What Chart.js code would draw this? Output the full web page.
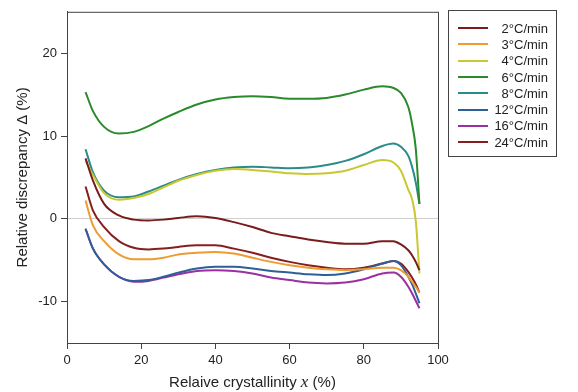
<!DOCTYPE html>
<html>
<head>
<meta charset="utf-8">
<script src="https://cdn.jsdelivr.net/npm/chart.js@4"></script>
<style>
  body { margin: 0; background: #fff; font-family: "Liberation Sans", Arial, sans-serif; }
  #wrap { position: relative; width: 578px; height: 392px; }
  #legend { position: absolute; left: 448px; top: 10px; width: 109px; height: 147px; border: 1px solid #444; box-sizing: border-box; padding-top: 9px; }
  .row { display: flex; align-items: center; height: 16.3px; font-size: 13px; color: #222; }
  .row span.l { display: inline-block; width: 30px; height: 2px; margin-left: 9px; }
  .row span.t { flex: 1; text-align: right; padding-right: 8px; }
  #xtitle { position: absolute; left: 67px; width: 371px; top: 372px; text-align: center; font-size: 15px; color: #222; }
  #xtitle i { font-family: "Liberation Serif", "DejaVu Serif", serif; font-size: 17px; }
</style>
</head>
<body>
<div id="wrap">
  <canvas id="c" width="578" height="392"></canvas>
  <div id="legend"></div>
  <div id="xtitle">Relaive crystallinity <i>x</i> (%)</div>
</div>
<script>
// crystallinity grid (%)
const xs = [5, 7, 10, 14, 18, 22, 26, 30, 35, 40, 45, 50, 55, 60, 65, 70, 75, 80, 85, 88, 90, 92, 93, 94, 95];
const yTicks = [-10, 0, 10, 20];

const labels = ["2°C/min", "3°C/min", "4°C/min", "6°C/min", "8°C/min", "12°C/min", "16°C/min", "24°C/min"];
const colors = ["#7a1c1c", "#ee9b32", "#c9c832", "#2b8a2b", "#2b8b8b", "#2f5f98", "#9a30a2", "#861e1e"];

const r2  = [7.3, 4.6, 1.8, 0.4, -0.1, -0.2, -0.1, 0.1, 0.3, 0.1, -0.4, -1.0, -1.7, -2.1, -2.5, -2.8, -3.0, -3.0, -2.7, -2.7, -3.1, -3.8, -4.4, -5.2, -6.2];
const r3  = [2.2, -0.8, -2.7, -4.3, -4.9, -4.9, -4.7, -4.3, -4.1, -4.0, -4.2, -4.7, -5.2, -5.6, -5.9, -6.1, -6.2, -6.1, -5.9, -5.9, -6.2, -7.0, -7.6, -8.2, -8.9];
const r4  = [7.0, 5.3, 3.1, 2.3, 2.5, 3.0, 3.8, 4.6, 5.3, 5.8, 6.0, 5.9, 5.7, 5.5, 5.4, 5.5, 5.8, 6.5, 7.1, 6.8, 5.8, 3.5, 2.4, -0.2, -6.6];
const r6  = [15.3, 13.0, 11.1, 10.3, 10.5, 11.2, 12.1, 12.9, 13.8, 14.4, 14.7, 14.8, 14.7, 14.5, 14.5, 14.6, 15.0, 15.6, 16.0, 15.8, 15.2, 13.5, 11.5, 8.5, 1.8];
const r8  = [8.4, 5.6, 3.4, 2.6, 2.7, 3.3, 4.0, 4.7, 5.4, 5.9, 6.2, 6.3, 6.2, 6.1, 6.2, 6.5, 7.0, 7.8, 8.8, 9.1, 8.7, 7.6, 6.3, 4.4, 1.8];
const r12 = [-1.2, -3.6, -5.5, -7.0, -7.5, -7.4, -7.0, -6.5, -6.0, -5.8, -5.8, -6.0, -6.3, -6.5, -6.7, -6.8, -6.6, -6.1, -5.4, -5.1, -5.6, -7.0, -7.9, -9.0, -10.2];
const r16 = [-1.2, -3.6, -5.5, -7.0, -7.6, -7.5, -7.1, -6.7, -6.3, -6.2, -6.3, -6.6, -7.1, -7.4, -7.7, -7.8, -7.7, -7.3, -6.6, -6.5, -7.0, -8.2, -9.0, -9.9, -10.8];
const r24 = [3.9, 1.0, -1.0, -2.7, -3.5, -3.7, -3.6, -3.4, -3.2, -3.2, -3.6, -4.1, -4.7, -5.2, -5.6, -5.9, -6.1, -5.9, -5.4, -5.1, -5.4, -6.4, -7.1, -7.9, -8.9];

const series = [r2, r3, r4, r6, r8, r12, r16, r24];

const datasets = series.map((ys, i) => ({
  label: labels[i],
  data: xs.map((x, j) => ({ x, y: ys[j] })),
  borderColor: colors[i],
  borderWidth: 2,
  pointRadius: 0,
  fill: false,
  cubicInterpolationMode: "monotone"
}));

// box round the plot
const frame = {
  id: "frame",
  afterDraw(chart) {
    const { ctx, chartArea: a } = chart;
    ctx.save();
    ctx.strokeStyle = "#444";
    ctx.lineWidth = 1;
    ctx.strokeRect(a.left + 0.5, a.top + 0.5, a.right - a.left, a.bottom - a.top);
    ctx.restore();
  }
};

const font = { family: "'Liberation Sans', Arial, sans-serif", size: 13 };

new Chart(document.getElementById("c"), {
  type: "line",
  data: { datasets },
  plugins: [frame],
  options: {
    responsive: false,
    animation: false,
    layout: { padding: { top: 10, right: 140, left: 0, bottom: 0 } },
    plugins: { legend: { display: false }, tooltip: { enabled: false } },
    scales: {
      x: {
        type: "linear", min: 0, max: 100,
        ticks: { stepSize: 20, color: "#222", font, padding: 4, maxRotation: 0 },
        grid: { drawOnChartArea: false, tickLength: 6, tickColor: "#444" },
        border: { color: "#444" },
        afterFit(s) { s.height = 49; }
      },
      y: {
        min: -15, max: 25,
        afterBuildTicks(s) { s.ticks = yTicks.map(v => ({ value: v })); },
        ticks: { color: "#222", font, padding: 4 },
        grid: {
          tickLength: 6, tickColor: "#444",
          color: c => (c.tick && c.tick.value === 0 ? "#cfcfcf" : "rgba(0,0,0,0)")
        },
        border: { color: "#444" },
        title: { display: true, text: "Relative discrepancy Δ (%)", color: "#222", font: { family: font.family, size: 15 }, padding: { top: 14, bottom: 6 } },
        afterFit(s) { s.width = 67; }
      }
    }
  }
});

const leg = document.getElementById("legend");
labels.forEach((l, i) => {
  const row = document.createElement("div");
  row.className = "row";
  row.innerHTML = `<span class="l" style="background:${colors[i]}"></span><span class="t">${l}</span>`;
  leg.appendChild(row);
});
</script>
</body>
</html>
